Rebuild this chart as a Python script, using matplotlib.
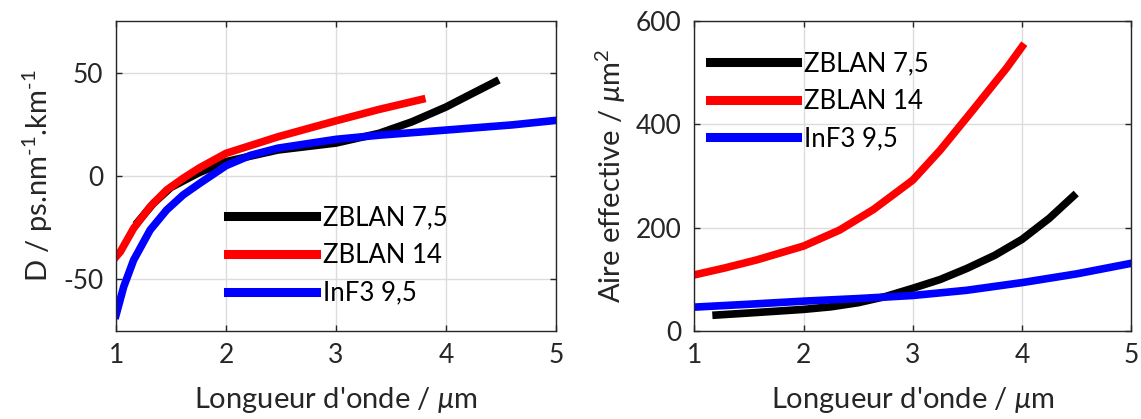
import numpy as np
import matplotlib
matplotlib.use("Agg")
import matplotlib.pyplot as plt

plt.rcParams['font.family'] = ['Lato', 'DejaVu Sans']
plt.rcParams['mathtext.fontset'] = 'custom'
plt.rcParams['mathtext.rm'] = 'Lato'
plt.rcParams['mathtext.it'] = 'Lato:italic'
plt.rcParams['axes.unicode_minus'] = False

# dispersion (left)
x_zb75_d = [1.2, 1.34, 1.5, 1.75, 2.0, 2.47, 3.0, 3.39, 3.69, 4.0, 4.2, 4.45]
y_zb75_d = [-22.2, -13.3, -5.5, 1.5, 7.0, 12.6, 16.0, 20.7, 26.3, 33.5, 39.0, 45.8]
x_zb14_d = [1.0, 1.04, 1.16, 1.31, 1.46, 1.61, 1.76, 2.0, 2.47, 3.0, 3.39, 3.78]
y_zb14_d = [-39.2, -36.7, -25.4, -14.9, -6.8, -1.1, 4.0, 11.0, 19.0, 26.8, 32.3, 37.2]
x_inf_d = [1.0, 1.07, 1.16, 1.31, 1.46, 1.61, 1.76, 2.0, 2.22, 2.47, 3.0, 3.39, 4.0, 4.6, 5.0]
y_inf_d = [-67.5, -53.7, -40.8, -26.2, -16.5, -9.2, -3.6, 5.0, 10.0, 13.5, 17.8, 19.8, 22.3, 24.8, 27.0]

# effective area (right)
x_zb75_a = [1.2, 1.5, 2.0, 2.25, 2.5, 2.75, 3.0, 3.25, 3.5, 3.75, 4.0, 4.25, 4.47]
y_zb75_a = [30, 34, 41, 46, 54, 66, 82, 99, 121, 146, 177, 218, 261]
x_zb14_a = [1.0, 1.27, 1.57, 2.0, 2.33, 2.64, 3.0, 3.25, 3.55, 3.86, 4.0]
y_zb14_a = [108, 121, 137, 164, 195, 235, 292, 350, 428, 510, 551]
x_inf_a = [1.0, 1.5, 2.0, 2.5, 3.0, 3.49, 4.0, 4.5, 5.0]
y_inf_a = [45.4, 51, 57, 62, 68, 78, 93, 110, 130.5]

labels = ['ZBLAN 7,5', 'ZBLAN 14', 'InF3 9,5']
colors = ['black', 'red', 'blue']

fig = plt.figure(figsize=(11.41, 4.19), dpi=100)
ax1 = fig.add_axes([0.1017, 0.2112, 0.3856, 0.7375])
ax2 = fig.add_axes([0.6085, 0.2112, 0.383, 0.7375])

dark = '#262626'
lw = 5.5
leg_kw = dict(frameon=False, fontsize=18.5, handlelength=3.4, handletextpad=0.27,
              labelspacing=0.49, borderaxespad=0)

ax1.plot(x_zb75_d, y_zb75_d, color=colors[0], lw=lw, label=labels[0], solid_joinstyle='round')
ax1.plot(x_zb14_d, y_zb14_d, color=colors[1], lw=lw, label=labels[1], solid_joinstyle='round')
ax1.plot(x_inf_d, y_inf_d, color=colors[2], lw=lw, label=labels[2], solid_joinstyle='round')
ax1.set_xlim(1, 5)
ax1.set_ylim(-75, 75)
ax1.set_yticks([-50, 0, 50])
ax1.set_ylabel(r'D / ps.nm$^{\text{-}1}$.km$^{\text{-}1}$', fontsize=21, color=dark, labelpad=6)
leg1 = ax1.legend(loc='upper left', bbox_to_anchor=(0.232, 0.438), **leg_kw)

ax2.plot(x_zb75_a, y_zb75_a, color=colors[0], lw=lw, label=labels[0], solid_joinstyle='round')
ax2.plot(x_zb14_a, y_zb14_a, color=colors[1], lw=lw, label=labels[1], solid_joinstyle='round')
ax2.plot(x_inf_a, y_inf_a, color=colors[2], lw=lw, label=labels[2], solid_joinstyle='round')
ax2.set_xlim(1, 5)
ax2.set_ylim(0, 600)
ax2.set_yticks([0, 200, 400, 600])
ax2.set_ylabel(r'Aire effective / $\mu$m$^{2}$', fontsize=21, color=dark, labelpad=6)
leg2 = ax2.legend(loc='upper left', bbox_to_anchor=(0.012, 0.937), **leg_kw)

for leg in (leg1, leg2):
    for ln in leg.get_lines():
        ln.set_linewidth(6.5)

for ax in (ax1, ax2):
    ax.set_xticks([1, 2, 3, 4, 5])
    ax.set_xlabel(r"Longueur d'onde / $\mu$m", fontsize=21, color=dark, labelpad=12)
    ax.grid(True, color='#dcdcdc', lw=1)
    ax.set_axisbelow(True)
    ax.tick_params(direction='in', top=True, right=True, length=4, width=1,
                   labelsize=19, colors=dark, pad=9)
    for s in ax.spines.values():
        s.set_color(dark)
        s.set_linewidth(1)

fig.savefig('out.png', dpi=100)
